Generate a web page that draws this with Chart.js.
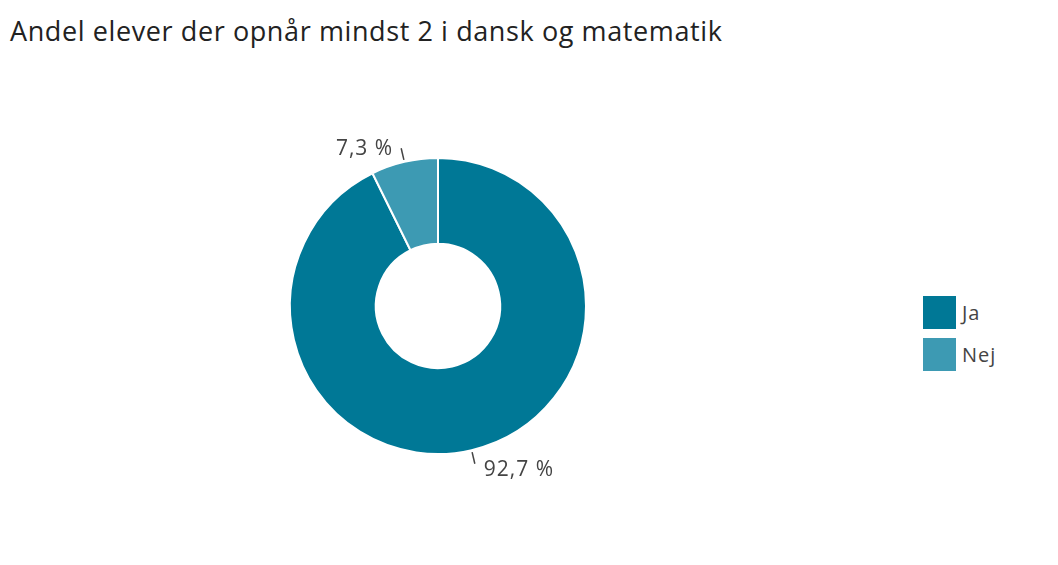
<!DOCTYPE html>
<html><head><meta charset="utf-8">
<script src="https://cdn.jsdelivr.net/npm/chart.js@4"></script>
<style>
body{margin:0;width:1058px;height:565px;background:#fff;font-family:"Open Sans",sans-serif;position:relative;overflow:hidden}
#title{position:absolute;left:10px;top:12px;font-size:27px;color:#222;letter-spacing:0.6px}
#wrap{position:absolute;left:138px;top:56px;width:600px;height:500px}
.lg{position:absolute;left:923px;font-size:20px;color:#444;display:flex;align-items:center;letter-spacing:1px}
.lg span{display:inline-block;width:33px;height:33px;margin-right:6px}
</style></head><body>
<div id="title">Andel elever der opnår mindst 2 i dansk og matematik</div>
<div id="wrap"><canvas id="c"></canvas></div>
<div class="lg" style="top:296px"><span style="background:#007896"></span>Ja</div>
<div class="lg" style="top:338px"><span style="background:#3d9ab3"></span>Nej</div>
<script>
// data
const labels = ['Ja', 'Nej'];
const values = [92.7, 7.3];
const colors = ['#007896', '#3d9ab3'];

// labels outside the ring with a short leader line
const outsideLabels = {
    id: 'outsideLabels',
    afterDatasetsDraw(chart) {
        const ctx = chart.ctx;
        const meta = chart.getDatasetMeta(0);
        ctx.save();
        ctx.font = '21px "Open Sans", sans-serif';
        ctx.letterSpacing = '1px';
        ctx.fillStyle = '#444';
        ctx.strokeStyle = '#444';
        ctx.lineWidth = 1.5;
        meta.data.forEach((arc, i) => {
            const a = (arc.startAngle + arc.endAngle) / 2;
            const r = arc.outerRadius;
            const cx = arc.x, cy = arc.y;
            const x1 = cx + Math.cos(a) * (r + 2), y1 = cy + Math.sin(a) * (r + 2);
            const x2 = cx + Math.cos(a) * (r + 14), y2 = cy + Math.sin(a) * (r + 14);
            ctx.beginPath(); ctx.moveTo(x1, y1); ctx.lineTo(x2, y2); ctx.stroke();
            const txt = values[i].toFixed(1).replace('.', ',') + ' %';
            const right = x2 >= cx;
            ctx.textAlign = right ? 'left' : 'right';
            ctx.textBaseline = 'middle';
            ctx.fillText(txt, x2 + (right ? 9 : -8), y2 + (Math.sin(a) > 0 ? 6 : 1));
        });
        ctx.restore();
    }
};

new Chart(document.getElementById('c'), {
    type: 'doughnut',
    data: {
        labels: labels,
        datasets: [{
            data: values,
            backgroundColor: colors,
            borderColor: '#fff',
            borderWidth: 2
        }]
    },
    options: {
        responsive: true,
        maintainAspectRatio: false,
        animation: false,
        radius: 148,
        cutout: '42%',
        plugins: { legend: { display: false }, tooltip: { enabled: false } }
    },
    plugins: [outsideLabels]
});
</script>
</body></html>
